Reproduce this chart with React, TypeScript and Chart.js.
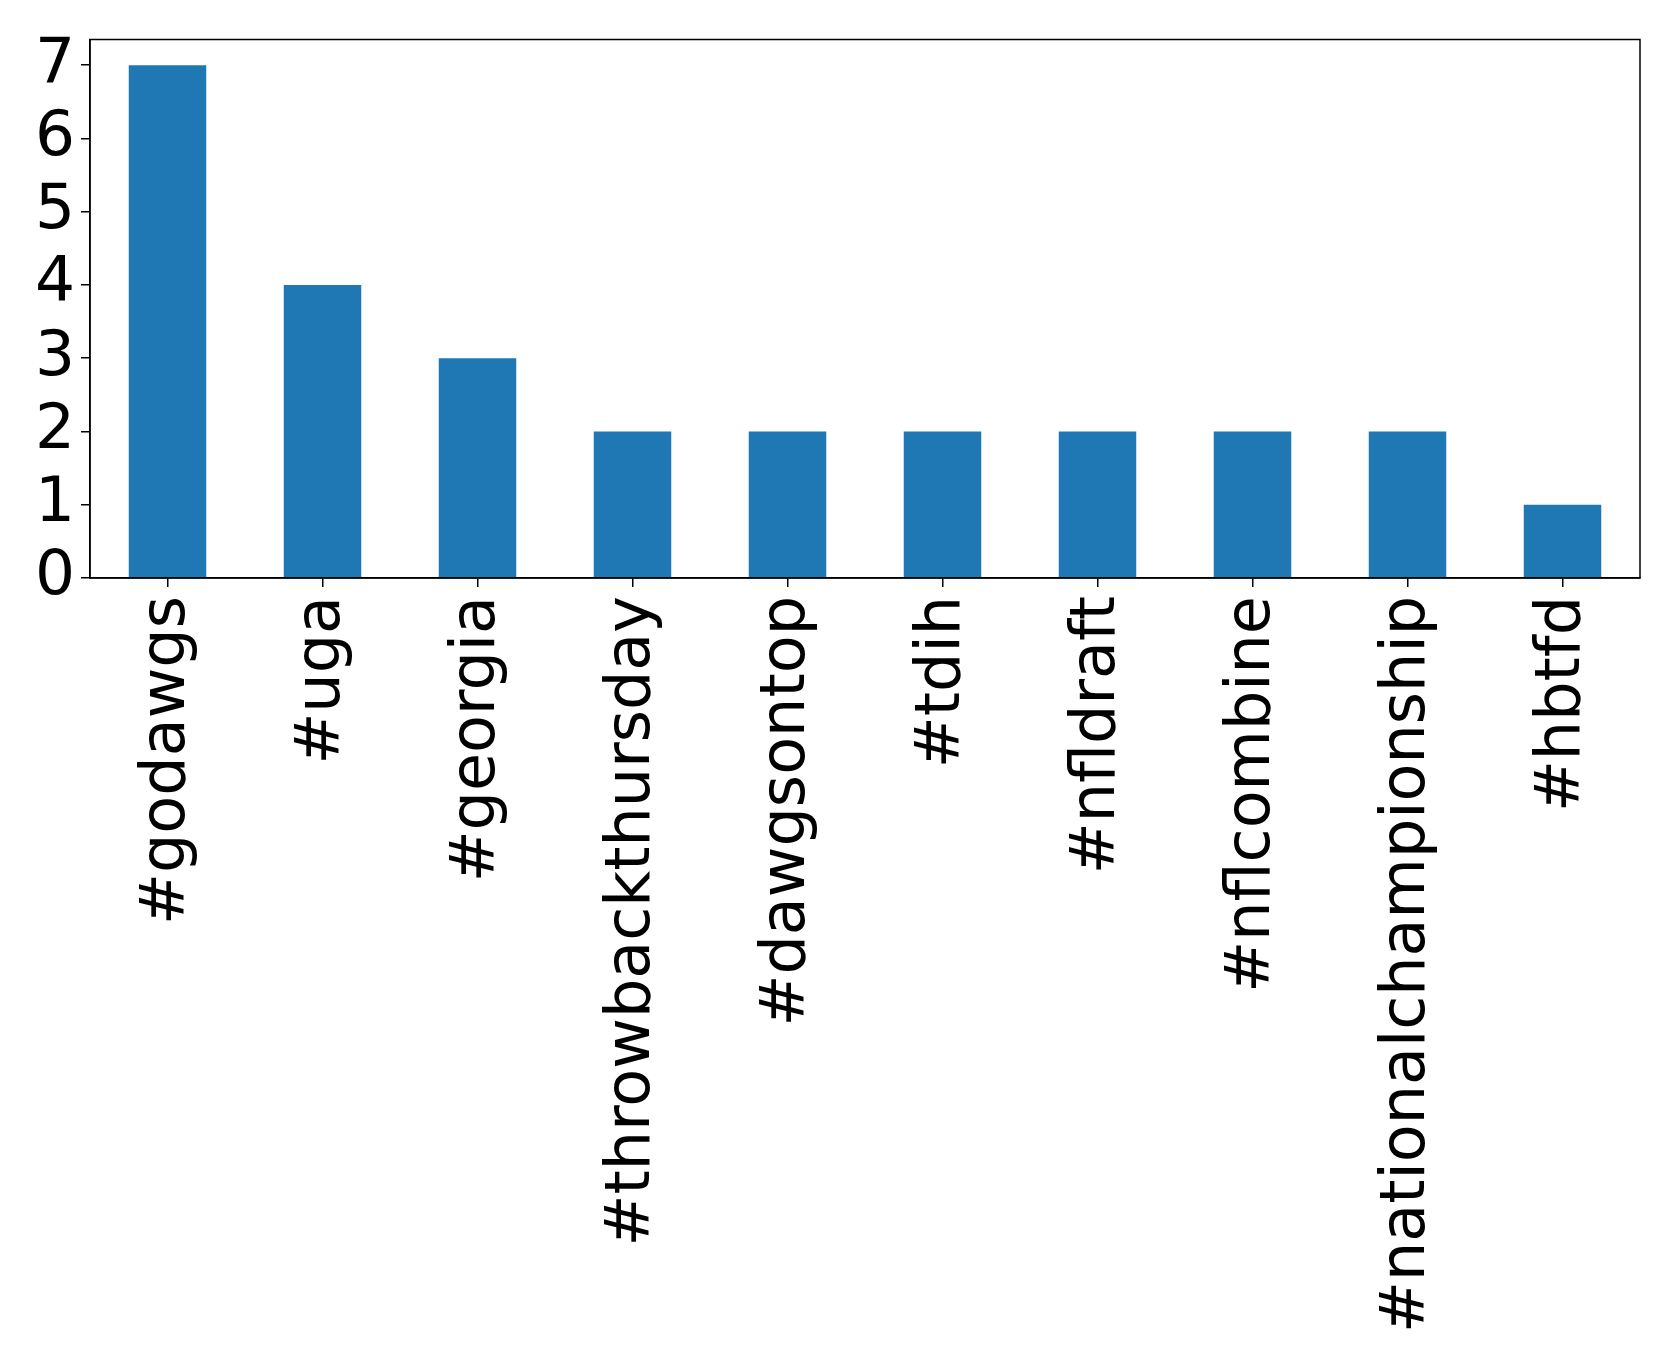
import React, { useEffect, useRef } from "react";
import { Chart, registerables } from "chart.js";

Chart.register(...registerables);

const categories = [
  "#godawgs",
  "#uga",
  "#georgia",
  "#throwbackthursday",
  "#dawgsontop",
  "#tdih",
  "#nfldraft",
  "#nflcombine",
  "#nationalchampionship",
  "#hbtfd",
];
const counts = [7, 4, 3, 2, 2, 2, 2, 2, 2, 1];
const yTicks = [0, 1, 2, 3, 4, 5, 6, 7];

const FONT = "'DejaVu Sans', sans-serif";

const framePlugin = {
  id: "frame",
  afterDraw(chart: any) {
    const { ctx, chartArea } = chart;
    ctx.save();
    ctx.strokeStyle = "#000";
    ctx.lineWidth = 1.5;
    ctx.strokeRect(chartArea.left, chartArea.top, chartArea.right - chartArea.left, chartArea.bottom - chartArea.top);
    ctx.restore();
  },
};

export default function App() {
  const ref = useRef<HTMLCanvasElement | null>(null);
  useEffect(() => {
    if (!ref.current) return;
    const chart = new Chart(ref.current, {
      type: "bar",
      data: {
        labels: categories,
        datasets: [
          {
            data: counts,
            backgroundColor: "#1f77b4",
            borderWidth: 0,
            barPercentage: 0.5,
            categoryPercentage: 1,
          },
        ],
      },
      plugins: [framePlugin],
      options: {
        responsive: false,
        animation: false,
        devicePixelRatio: 1,
        layout: { padding: { top: 39.5, right: 39, left: 0, bottom: 0 } },
        plugins: { legend: { display: false }, tooltip: { enabled: false } },
        scales: {
          x: {
            offset: true,
            border: { display: true, color: "#000", width: 1.5 },
            grid: { offset: false, drawOnChartArea: false, drawTicks: true, tickLength: 9, color: "#000", lineWidth: 1.5 },
            ticks: {
              minRotation: 90,
              maxRotation: 90,
              autoSkip: false,
              padding: 9,
              color: "#000",
              font: { family: FONT, size: 62 },
            },
            afterFit(scale: any) {
              scale.height = 1370 - 578;
              scale.paddingLeft = 0;
              scale.paddingRight = 0;
            },
          },
          y: {
            min: 0,
            max: 7.35,
            border: { display: true, color: "#000", width: 1.5 },
            grid: { drawOnChartArea: false, drawTicks: true, tickLength: 9, color: "#000", lineWidth: 1.5 },
            ticks: {
              autoSkip: false,
              padding: 6,
              color: "#000",
              font: { family: FONT, size: 63 },
            },
            afterBuildTicks(scale: any) {
              scale.ticks = yTicks.map((v) => ({ value: v }));
            },
            afterFit(scale: any) {
              scale.width = 90;
              scale.paddingTop = 0;
              scale.paddingBottom = 0;
            },
          },
        },
      },
    });
    return () => chart.destroy();
  }, []);
  return (
    <div style={{ position: "fixed", left: 0, top: 0, width: 1679, height: 1370, background: "#fff" }}>
      <canvas ref={ref} width={1679} height={1370} />
    </div>
  );
}
